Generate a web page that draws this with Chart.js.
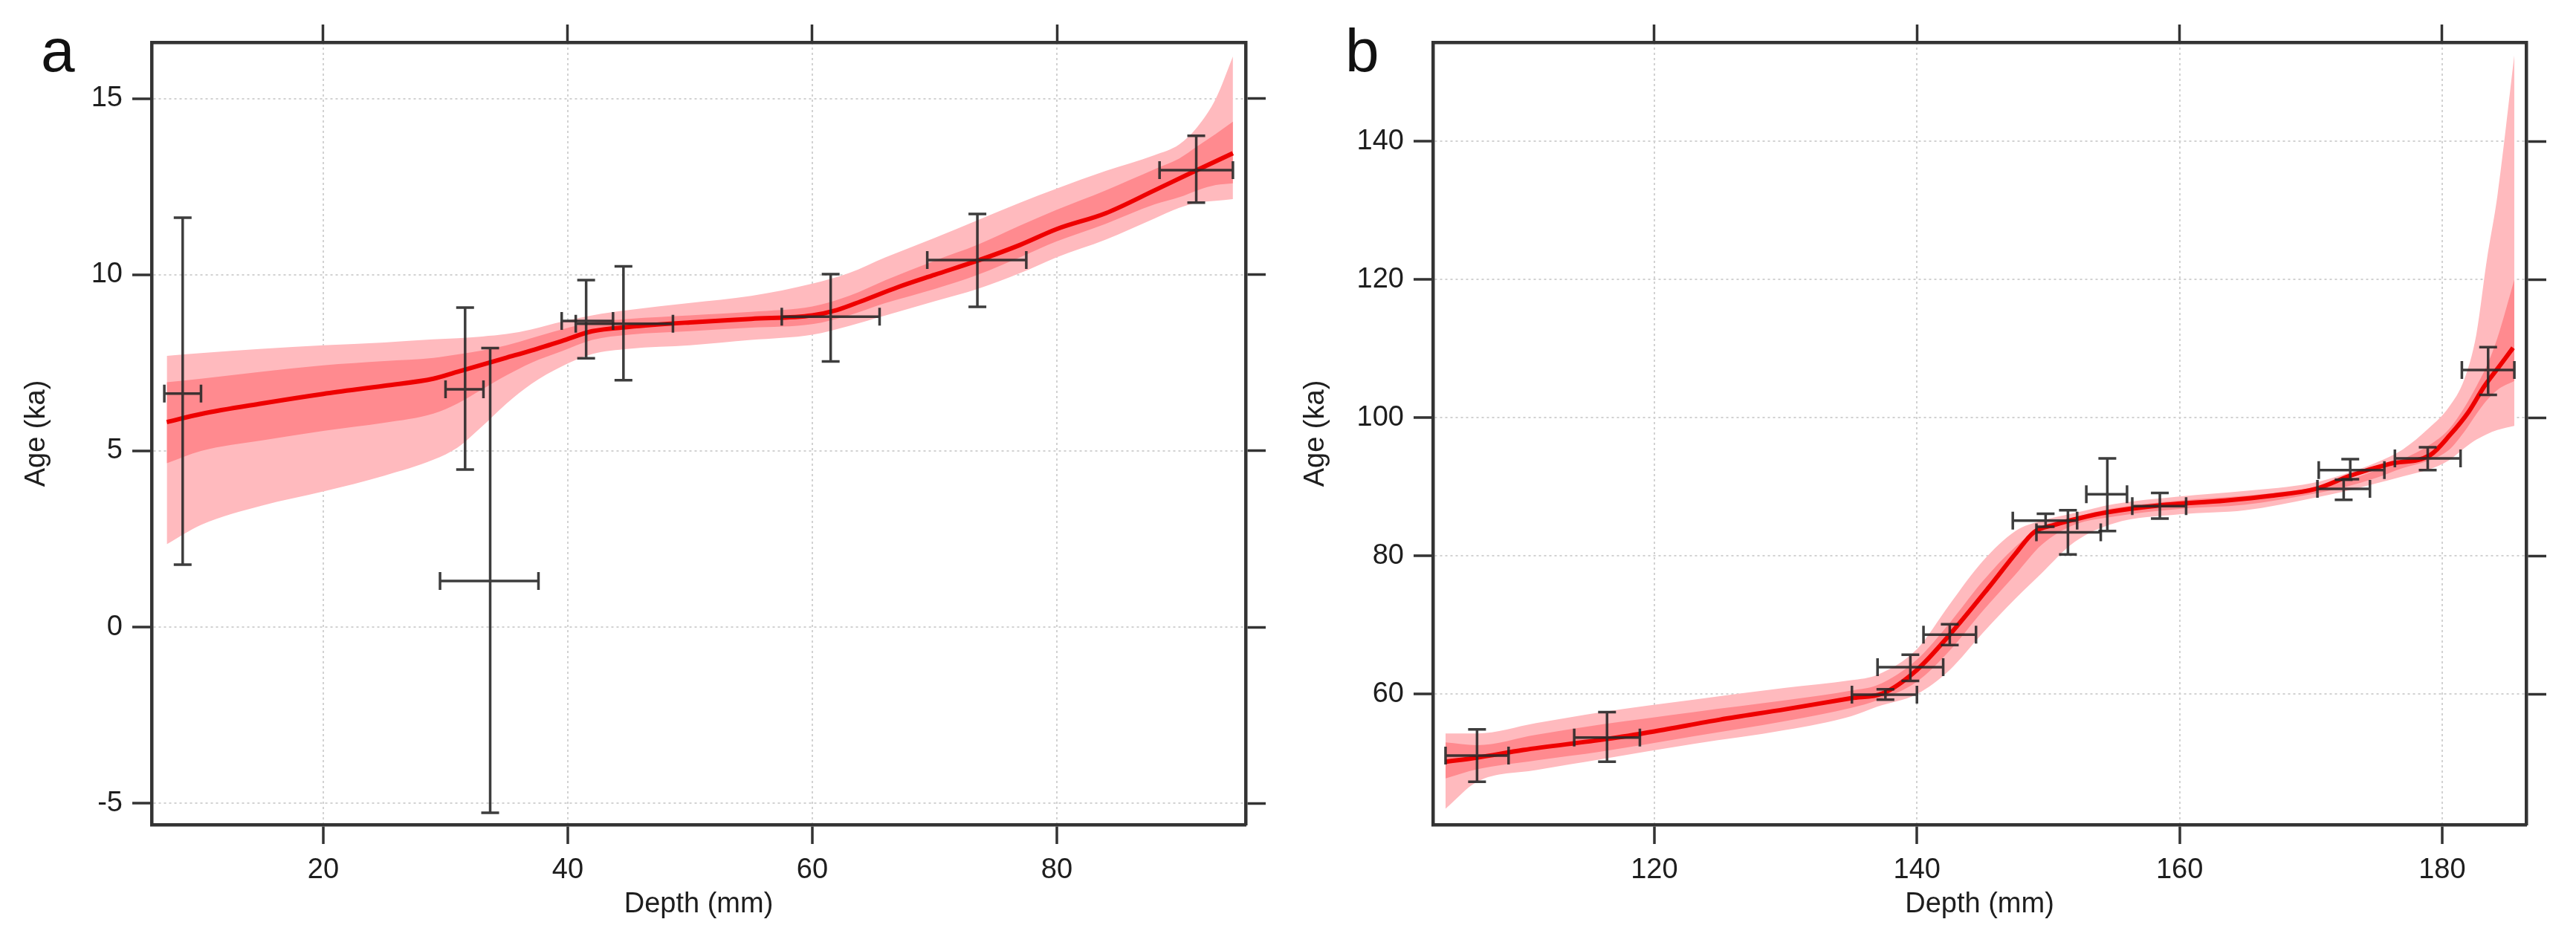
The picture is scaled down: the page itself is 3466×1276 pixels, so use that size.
<!DOCTYPE html>
<html>
<head>
<meta charset="utf-8">
<title>Age-depth models</title>
<script src="https://cdn.jsdelivr.net/npm/chart.js@4.4.1/dist/chart.umd.min.js"></script>
<style>
  html, body { margin: 0; padding: 0; background: #fff; }
  #wrap { position: relative; width: 3466px; height: 1276px; overflow: hidden; }
  #wrap canvas { position: absolute; top: 0; }
  .panel-tag { position: absolute; font: 82px/82px "Liberation Sans", Arial, sans-serif; color: #111; }
</style>
</head>
<body>
<div id="wrap">
  <canvas id="ageA" width="1733" height="1276" style="left:0"></canvas>
  <canvas id="ageB" width="1733" height="1276" style="left:1733px"></canvas>
  <div class="panel-tag" style="left:55px;top:27px">a</div>
  <div class="panel-tag" style="left:1810px;top:27px">b</div>
</div>
<script>
// ---- panel a ----
const xTicksA = [20, 40, 60, 80];
const yTicksA = [-5, 0, 5, 10, 15];

const medXA = [7.2, 10, 15, 20, 25, 29, 31, 33, 35, 37, 39.5, 42, 45, 50, 55, 60, 62, 64, 67, 70, 73.5, 77, 80, 84, 88, 91, 94.4];
const medYA = [5.82, 6.05, 6.35, 6.62, 6.85, 7.05, 7.25, 7.45, 7.65, 7.85, 8.12, 8.4, 8.52, 8.65, 8.75, 8.85, 9.0, 9.25, 9.65, 10.0, 10.4, 10.85, 11.3, 11.75, 12.4, 12.9, 13.45];

const bandXA   = [7.2, 10, 15, 20, 25, 29, 31, 33, 35, 37, 39.5, 42, 45, 50, 55, 60, 63, 66, 70, 73.5, 77, 80, 84, 88, 90, 91.5, 93, 94.4];
const lightHiA = [7.7, 7.78, 7.9, 8.0, 8.08, 8.17, 8.2, 8.25, 8.32, 8.45, 8.67, 8.85, 9.0, 9.2, 9.4, 9.75, 10.05, 10.5, 11.05, 11.55, 12.05, 12.45, 12.95, 13.4, 13.7, 14.2, 15.0, 16.2];
const lightLoA = [2.35, 2.9, 3.45, 3.85, 4.3, 4.75, 5.1, 5.7, 6.35, 6.9, 7.4, 7.75, 7.9, 8.0, 8.15, 8.3, 8.55, 8.85, 9.25, 9.6, 10.05, 10.5, 11.0, 11.6, 11.9, 12.05, 12.1, 12.15];
const darkHiA  = [6.95, 7.05, 7.25, 7.43, 7.55, 7.64, 7.74, 7.85, 8.0, 8.2, 8.45, 8.65, 8.75, 8.85, 8.95, 9.1, 9.4, 9.85, 10.4, 10.85, 11.4, 11.85, 12.4, 13.0, 13.3, 13.65, 14.0, 14.35];
const darkLoA  = [4.65, 5.0, 5.3, 5.57, 5.8, 6.06, 6.35, 6.75, 7.15, 7.5, 7.83, 8.15, 8.3, 8.4, 8.5, 8.6, 8.85, 9.2, 9.6, 10.0, 10.5, 10.95, 11.45, 12.0, 12.2, 12.4, 12.55, 12.6];

const errXA   = [8.5, 31.6, 33.65, 41.5, 44.55, 61.5, 73.5, 91.4];
const errXloA = [7.0, 30.0, 29.55, 39.5, 40.65, 57.5, 69.4, 88.4];
const errXhiA = [10.0, 33.1, 37.6, 43.7, 48.6, 65.5, 77.5, 94.4];
const errYA   = [6.63, 6.75, 1.31, 8.69, 8.61, 8.81, 10.42, 12.97];
const errYloA = [1.77, 4.47, -5.27, 7.63, 7.01, 7.54, 9.09, 12.05];
const errYhiA = [11.62, 9.07, 7.92, 9.85, 10.24, 10.02, 11.73, 13.95];

// ---- panel b ----
const xTicksB = [120, 140, 160, 180];
const yTicksB = [60, 80, 100, 120, 140];

const medXB = [104.1, 106.5, 110, 116.4, 120, 125, 130, 135, 137.4, 140, 142.5, 145.5, 147.5, 148.9, 150.5, 152.5, 154.5, 158.5, 163.5, 167, 170.4, 173, 176, 179.1, 180.6, 182, 183.2, 184.3, 185.4];
const medYB = [50.2, 50.8, 51.9, 53.5, 54.6, 56.3, 57.8, 59.4, 60.1, 63.5, 68.6, 75.5, 80.3, 83.4, 84.5, 85.5, 86.3, 87.3, 88.0, 88.7, 89.7, 91.6, 93.3, 94.6, 97.5, 100.8, 104.5, 107.3, 110.1];

const bandXB   = [104.1, 106.5, 111, 116, 123, 130, 135, 137, 140, 142.5, 145, 147.5, 149.5, 152, 155, 160, 165, 170, 172.5, 175, 177, 179, 180.5, 181.7, 182.6, 183.4, 184.2, 185.5];
const lightHiB = [54.3, 54.3, 55.8, 57.4, 59.2, 60.9, 62.0, 62.8, 66.5, 73.0, 79.2, 83.6, 85.1, 86.2, 87.5, 88.6, 89.4, 90.5, 91.8, 93.5, 95.4, 98.5, 101.5, 105.6, 112.0, 122.8, 132.0, 152.5];
const lightLoB = [43.4, 47.3, 49.0, 50.6, 52.8, 54.8, 56.8, 58.2, 60.0, 63.5, 68.8, 73.8, 77.5, 82.0, 84.7, 86.0, 86.6, 88.3, 89.3, 90.5, 91.5, 92.5, 93.8, 95.6, 96.8, 97.6, 98.2, 98.8];
const darkHiB  = [53.0, 52.6, 54.1, 55.6, 57.4, 59.1, 60.5, 61.3, 65.0, 70.3, 76.3, 81.3, 84.2, 85.6, 86.9, 88.0, 88.7, 89.8, 90.8, 92.4, 94.0, 96.0, 98.3, 101.5, 104.5, 107.5, 111.5, 120.0];
const darkLoB  = [47.8, 49.1, 50.4, 51.7, 53.9, 56.1, 58.0, 59.1, 61.8, 66.3, 72.0, 77.3, 81.6, 84.5, 85.7, 86.8, 87.4, 88.9, 89.9, 91.3, 92.7, 93.8, 95.3, 98.0, 100.5, 102.5, 104.0, 105.3];

const errXB   = [106.5, 116.4, 137.6, 139.5, 142.5, 149.8, 151.5, 154.5, 158.5, 172.5, 173.0, 178.9, 183.5];
const errXloB = [104.1, 113.9, 135.05, 137.0, 140.5, 147.3, 149.1, 152.9, 156.4, 170.5, 170.6, 176.4, 181.5];
const errXhiB = [108.9, 118.9, 140.0, 142.0, 144.5, 152.2, 154.0, 156.0, 160.5, 174.5, 175.6, 181.4, 185.5];
const errYB   = [51.1, 53.7, 59.9, 63.9, 68.6, 85.1, 83.4, 88.9, 87.2, 89.7, 92.4, 94.1, 106.9];
const errYloB = [47.3, 50.2, 59.2, 61.9, 67.1, 84.2, 80.2, 83.6, 85.4, 88.1, 91.1, 92.4, 103.3];
const errYhiB = [54.9, 57.4, 60.7, 65.7, 70.1, 86.1, 86.6, 94.1, 89.1, 91.0, 94.0, 95.7, 110.2];

const FONT = '"Liberation Sans", Arial, sans-serif';
const INK = '#1e1e1e';
const FRAME = '#333';
const GRID = '#d2d2d2';
const LIGHT = '#ffbabe';
const DARK = '#ff8a8f';
const RED = '#ee0000';
const H = 1276, W = 1733;

function pts(xs, ys) {
  return xs.map((x, i) => ({ x: x, y: ys[i] }));
}

// crosses with caps, placed through the chart's own scales
function errorBarPlugin(bars) {
  return {
    id: 'errorBars',
    afterDatasetsDraw(chart) {
      const { ctx, scales: { x, y } } = chart;
      const cap = 12;
      ctx.save();
      ctx.strokeStyle = 'rgba(40,40,40,0.9)';
      ctx.lineWidth = 3.5;
      bars.x.forEach((xv, i) => {
        const px = x.getPixelForValue(xv);
        const py = y.getPixelForValue(bars.y[i]);
        const x0 = x.getPixelForValue(bars.xlo[i]);
        const x1 = x.getPixelForValue(bars.xhi[i]);
        const y0 = y.getPixelForValue(bars.ylo[i]);
        const y1 = y.getPixelForValue(bars.yhi[i]);
        ctx.beginPath();
        ctx.moveTo(x0, py); ctx.lineTo(x1, py);
        ctx.moveTo(x0, py - cap); ctx.lineTo(x0, py + cap);
        ctx.moveTo(x1, py - cap); ctx.lineTo(x1, py + cap);
        ctx.moveTo(px, y0); ctx.lineTo(px, y1);
        ctx.moveTo(px - cap, y0); ctx.lineTo(px + cap, y0);
        ctx.moveTo(px - cap, y1); ctx.lineTo(px + cap, y1);
        ctx.stroke();
      });
      ctx.restore();
    }
  };
}

function band(xs, ys, fill, color, order) {
  return {
    data: pts(xs, ys),
    borderWidth: 0,
    borderColor: 'rgba(0,0,0,0)',
    pointRadius: 0,
    fill: fill,
    backgroundColor: color,
    order: order,
    cubicInterpolationMode: 'monotone'
  };
}

function makeAgeChart(id, p) {
  const ctx = document.getElementById(id).getContext('2d');
  const setTicks = vals => scale => { scale.ticks = vals.map(v => ({ value: v })); };
  const frame = { display: true, color: FRAME, width: 4.5, dash: [3, 4] };
  const tickFont = { family: FONT, size: 38 };
  const titleFont = { family: FONT, size: 38 };
  const hidden = 'rgba(0,0,0,0)';

  return new Chart(ctx, {
    type: 'line',
    data: {
      datasets: [
        band(p.bandX, p.lightHi, false, LIGHT, 3),
        band(p.bandX, p.lightLo, '-1', LIGHT, 3),
        band(p.bandX, p.darkHi, false, DARK, 2),
        band(p.bandX, p.darkLo, '-1', DARK, 2),
        {
          data: pts(p.medX, p.medY),
          borderColor: RED,
          borderWidth: 6,
          pointRadius: 0,
          fill: false,
          order: 1,
          cubicInterpolationMode: 'monotone'
        }
      ]
    },
    options: {
      responsive: false,
      animation: false,
      devicePixelRatio: 1,
      layout: { padding: 0 },
      plugins: { legend: { display: false }, tooltip: { enabled: false } },
      scales: {
        x: {
          type: 'linear', position: 'bottom', min: p.xMin, max: p.xMax,
          afterBuildTicks: setTicks(p.xTicks),
          afterFit: s => { s.height = H - p.bottom; },
          grid: { color: GRID, lineWidth: 2, tickLength: 26, tickColor: FRAME, tickWidth: 3.5 },
          border: frame,
          ticks: { font: tickFont, color: INK, padding: 13, maxRotation: 0 },
          title: { display: true, text: 'Depth (mm)', font: titleFont, color: INK, padding: { top: 0, bottom: 36 } }
        },
        x2: {
          type: 'linear', position: 'top', min: p.xMin, max: p.xMax,
          afterBuildTicks: setTicks(p.xTicks),
          afterFit: s => { s.height = p.top; },
          grid: { drawOnChartArea: false, tickLength: 24, tickColor: FRAME, tickWidth: 3.5 },
          border: frame,
          ticks: { font: tickFont, color: hidden, maxRotation: 0 }
        },
        y: {
          type: 'linear', position: 'left', min: p.yMin, max: p.yMax,
          afterBuildTicks: setTicks(p.yTicks),
          afterFit: s => { s.width = p.left; },
          grid: { color: GRID, lineWidth: 2, tickLength: 26, tickColor: FRAME, tickWidth: 3.5 },
          border: frame,
          ticks: { font: tickFont, color: INK, padding: 13 },
          title: { display: true, text: 'Age (ka)', font: titleFont, color: INK, padding: { top: p.titleGap, bottom: 0 } }
        },
        y2: {
          type: 'linear', position: 'right', min: p.yMin, max: p.yMax,
          afterBuildTicks: setTicks(p.yTicks),
          afterFit: s => { s.width = W - p.right; },
          grid: { drawOnChartArea: false, tickLength: 27, tickColor: FRAME, tickWidth: 3.5 },
          border: frame,
          ticks: { font: tickFont, color: hidden }
        }
      }
    },
    plugins: [errorBarPlugin(p.err)]
  });
}

makeAgeChart('ageA', {
  xMin: 5.96, xMax: 95.44, yMin: -5.61, yMax: 16.6,
  xTicks: xTicksA, yTicks: yTicksA,
  left: 204, right: 1676, top: 57, bottom: 1110, titleGap: 27,
  medX: medXA, medY: medYA,
  bandX: bandXA, lightHi: lightHiA, lightLo: lightLoA, darkHi: darkHiA, darkLo: darkLoA,
  err: { x: errXA, xlo: errXloA, xhi: errXhiA, y: errYA, ylo: errYloA, yhi: errYhiA }
});

makeAgeChart('ageB', {
  xMin: 103.14, xMax: 186.4, yMin: 41.1, yMax: 154.3,
  xTicks: xTicksB, yTicks: yTicksB,
  left: 195, right: 1666, top: 57, bottom: 1110, titleGap: 15,
  medX: medXB, medY: medYB,
  bandX: bandXB, lightHi: lightHiB, lightLo: lightLoB, darkHi: darkHiB, darkLo: darkLoB,
  err: { x: errXB, xlo: errXloB, xhi: errXhiB, y: errYB, ylo: errYloB, yhi: errYhiB }
});
</script>
</body>
</html>
